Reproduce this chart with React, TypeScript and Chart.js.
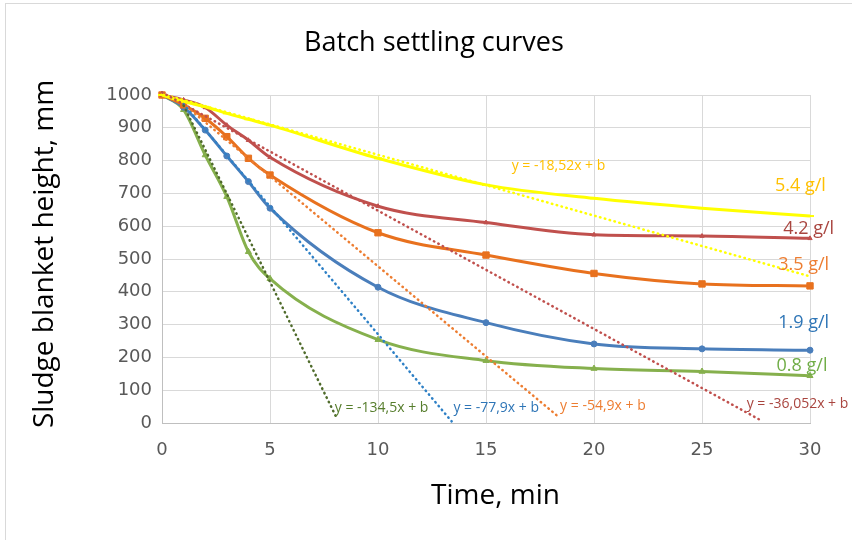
import React, { useEffect, useRef } from "react";
import { Chart, registerables } from "chart.js";

Chart.register(...registerables);

// ---------- texts ----------
const TITLE = "Batch settling curves";
const X_TITLE = "Time, min";
const Y_TITLE = "Sludge blanket height, mm";

// ---------- data ----------
const TIME = [0, 1, 2, 3, 4, 5, 10, 15, 20, 25, 30];
const H_08 = [1000, 955, 817, 690, 522, 440, 254, 190, 166, 157, 144];
const H_19 = [1000, 963, 893, 814, 736, 655, 414, 306, 241, 226, 222];
const H_35 = [1000, 970, 929, 873, 807, 756, 580, 512, 456, 424, 418];
const H_42 = [1000, 985, 962, 908, 862, 810, 661, 611, 574, 570, 563];
const H_54 = [1000, 980, 964, 944, 926, 908, 807, 726, 685, 655, 631];

const SERIES_LABELS = ["0.8 g/l", "1.9 g/l", "3.5 g/l", "4.2 g/l", "5.4 g/l"];

// linear trend lines: start / end points
const TREND_08_X = [1, 8.05];
const TREND_08_Y = [968, 20];
const TREND_19_X = [1, 13.41];
const TREND_19_Y = [972, 5];
const TREND_35_X = [1, 18.3];
const TREND_35_Y = [972, 22];
const TREND_42_X = [0, 27.73];
const TREND_42_Y = [1008, 8];
const TREND_54_X = [0, 30];
const TREND_54_Y = [1003, 447];

const TREND_LABELS = [
  "y = -134,5x + b",
  "y = -77,9x + b",
  "y = -54,9x + b",
  "y = -36,052x + b",
  "y = -18,52x + b",
];

// label anchors in data units (left edge, vertical centre)
const SERIES_LABEL_X = [28.45, 28.53, 28.53, 28.76, 28.38];
const SERIES_LABEL_Y = [175, 305, 482, 591, 723];
const TREND_LABEL_X = [8.0, 13.49, 18.43, 27.07, 16.19];
const TREND_LABEL_Y = [46, 46, 51, 59, 782];

// ---------- styles ----------
const LINE_COLORS = ["#86B04D", "#4A7EBB", "#E8711E", "#C0504D", "#FFFF00"];
const LABEL_COLORS = ["#70AD47", "#2E75B6", "#ED7D31", "#A9453F", "#FFC000"];
const TREND_COLORS = ["#4F6B2B", "#2E80C6", "#ED7D31", "#C0504D", "#FFFF00"];
const TREND_LABEL_COLORS = ["#567D2C", "#2E75B6", "#ED7D31", "#A9453F", "#FFC000"];
const POINT_STYLES = ["triangle", "circle", "rect", "triangle", "line"];
const POINT_RADII = [3.5, 3, 4.5, 2.5, 4];

const TEXT_FONT = '"Open Sans", "Noto Sans", sans-serif';
const TICK_FONT = '"DejaVu Sans", sans-serif';

const toXY = (xs: number[], ys: number[]) => xs.map((x, i) => ({ x, y: ys[i] }));

const overlayPlugin = {
  id: "overlay",
  afterDraw(chart: any) {
    const { ctx } = chart;
    const xs = chart.scales.x;
    const ys = chart.scales.y;
    ctx.save();
    // outer frame
    ctx.strokeStyle = "#D9D9D9";
    ctx.lineWidth = 1;
    ctx.strokeRect(5.5, 3.5, 900, 600);

    // chart title
    ctx.fillStyle = "#000000";
    ctx.font = `27px ${TEXT_FONT}`;
    ctx.textAlign = "center";
    ctx.textBaseline = "alphabetic";
    ctx.fillText(TITLE, 434, 51);

    // x title
    ctx.font = `28px ${TEXT_FONT}`;
    ctx.fillText(X_TITLE, 495.5, 504);

    // y title
    ctx.save();
    ctx.translate(53, 254);
    ctx.rotate(-Math.PI / 2);
    ctx.fillText(Y_TITLE, 0, 0);
    ctx.restore();

    // series labels
    ctx.textAlign = "left";
    ctx.textBaseline = "middle";
    ctx.font = `18px ${TEXT_FONT}`;
    SERIES_LABELS.forEach((t, i) => {
      ctx.fillStyle = LABEL_COLORS[i];
      ctx.fillText(t, xs.getPixelForValue(SERIES_LABEL_X[i]), ys.getPixelForValue(SERIES_LABEL_Y[i]));
    });

    // trend equation labels
    ctx.font = `14px ${TEXT_FONT}`;
    TREND_LABELS.forEach((t, i) => {
      ctx.fillStyle = TREND_LABEL_COLORS[i];
      ctx.fillText(t, xs.getPixelForValue(TREND_LABEL_X[i]), ys.getPixelForValue(TREND_LABEL_Y[i]));
    });
    ctx.restore();
  },
};

export default function App() {
  const ref = useRef<HTMLCanvasElement | null>(null);

  useEffect(() => {
    if (!ref.current) return;
    const series = [H_08, H_19, H_35, H_42, H_54];
    const trendX = [TREND_08_X, TREND_19_X, TREND_35_X, TREND_42_X, TREND_54_X];
    const trendY = [TREND_08_Y, TREND_19_Y, TREND_35_Y, TREND_42_Y, TREND_54_Y];

    const trendSets = trendX.map((tx, i) => ({
      label: TREND_LABELS[i],
      data: toXY(tx, trendY[i]),
      borderColor: TREND_COLORS[i],
      backgroundColor: TREND_COLORS[i],
      borderWidth: 2.5,
      borderDash: [0.5, 4.5],
      borderCapStyle: "round",
      pointRadius: 0,
      tension: 0,
      fill: false,
      order: 1,
      clip: false,
    }));

    const seriesSets = series.map((s, i) => ({
      label: SERIES_LABELS[i],
      data: toXY(TIME, s),
      borderColor: LINE_COLORS[i],
      backgroundColor: LINE_COLORS[i],
      pointBackgroundColor: LINE_COLORS[i],
      pointBorderColor: LINE_COLORS[i],
      pointStyle: POINT_STYLES[i],
      pointRadius: POINT_RADII[i],
      pointBorderWidth: i === 4 ? 2 : 1,
      borderWidth: 3,
      tension: 0.4,
      cubicInterpolationMode: "monotone",
      fill: false,
      order: 10 - i,
      clip: false,
    }));

    const chart = new Chart(ref.current, {
      type: "line",
      data: { datasets: [...trendSets, ...seriesSets] as any },
      options: {
        responsive: false,
        animation: false,
        devicePixelRatio: 1,
        layout: { padding: { top: 95, right: 42, left: 0, bottom: 0 } },
        plugins: {
          legend: { display: false },
          title: { display: false },
          tooltip: { enabled: false },
        },
        scales: {
          x: {
            type: "linear",
            min: 0,
            max: 30,
            afterFit: (s: any) => {
              s.height = 117;
            },
            ticks: {
              stepSize: 5,
              color: "#595959",
              font: { family: TICK_FONT, size: 18 },
              padding: 17,
              callback: (v: any) => String(v),
            },
            grid: { color: "#D9D9D9", drawTicks: false },
            border: { color: "#BFBFBF" },
          },
          y: {
            type: "linear",
            min: 0,
            max: 1000,
            afterFit: (s: any) => {
              s.width = 162;
            },
            ticks: {
              stepSize: 100,
              color: "#595959",
              font: { family: TICK_FONT, size: 18 },
              padding: 10,
              callback: (v: any) => String(v),
            },
            grid: { color: "#D9D9D9", drawTicks: false },
            border: { color: "#BFBFBF" },
          },
        },
      },
      plugins: [overlayPlugin],
    });
    return () => chart.destroy();
  }, []);

  return (
    <div style={{ position: "fixed", left: 0, top: 0, width: 852, height: 540, background: "#ffffff" }}>
      <canvas ref={ref} width={852} height={540} style={{ width: 852, height: 540, display: "block" }} />
    </div>
  );
}
